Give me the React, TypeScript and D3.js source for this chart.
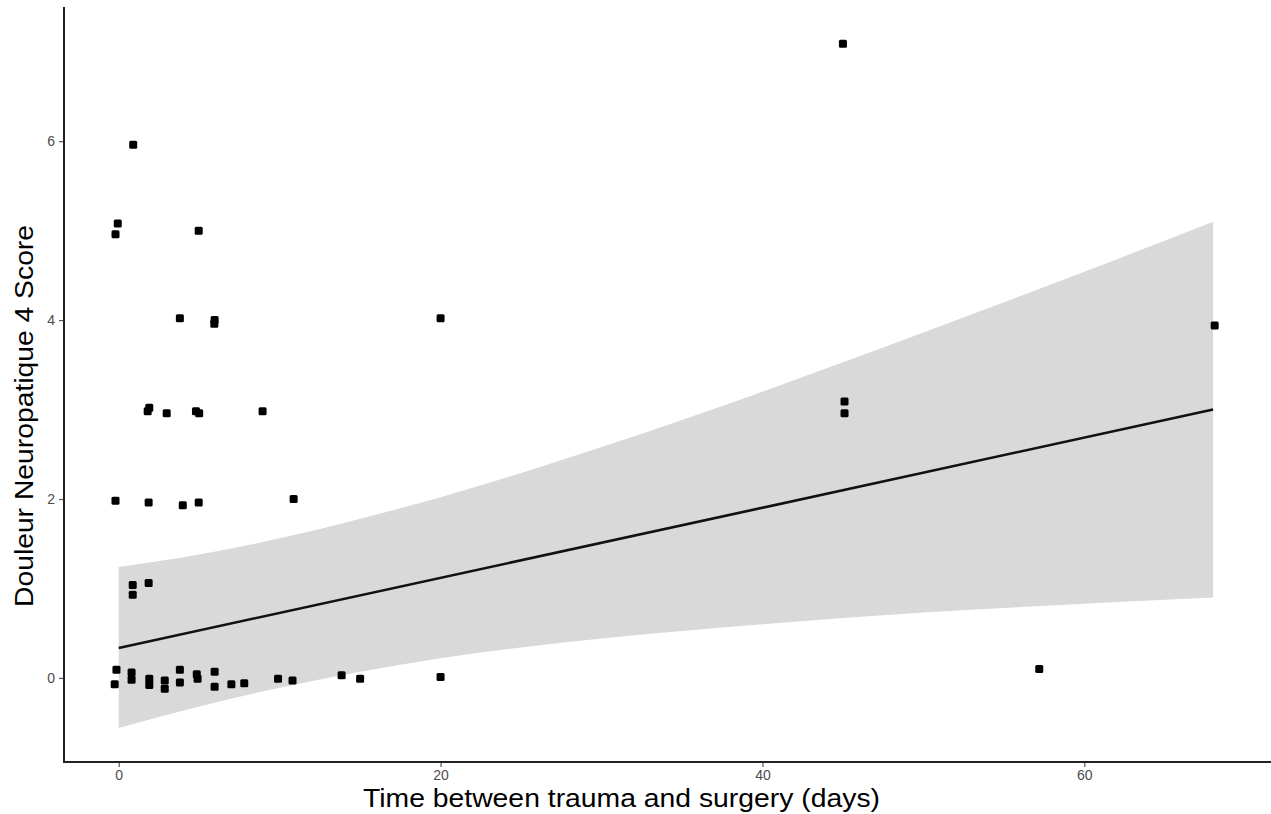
import React, { useRef, useEffect } from "react";
import * as d3 from "d3";

// observed points: days between trauma and surgery, DN4 score (jittered)
const pointDays = [
  45, 0.9, -0.06, -0.2, 4.97, 3.8, 5.96, 5.94, 20, 68.1,
  1.9, 1.8, 2.98, 4.8, 5.0, 8.94, 45.1, 45.1,
  -0.2, 1.86, 3.98, 4.97, 10.87,
  0.87, 0.87, 1.86, 57.2,
  -0.14, -0.25, 0.8, 0.8, 1.9, 1.9, 2.86, 2.86, 3.8, 3.8, 4.85, 4.9,
  5.96, 5.96, 7.0, 7.8, 9.9, 10.8, 13.85, 15.0, 20,
];
const pointScores = [
  7.09, 5.96, 5.08, 4.96, 5.0, 4.02, 4.0, 3.96, 4.02, 3.94,
  3.02, 2.98, 2.96, 2.98, 2.96, 2.98, 3.09, 2.96,
  1.98, 1.96, 1.93, 1.96, 2.0,
  1.04, 0.93, 1.06, 0.1,
  0.09, -0.07, 0.06, -0.02, -0.01, -0.08, -0.03, -0.12, 0.09, -0.05, 0.04, -0.01,
  0.07, -0.1, -0.07, -0.06, -0.01, -0.03, 0.03, -0.01, 0.01,
];

// fitted line and confidence band
const bandDays = [0, 5, 10, 15, 20, 30, 40, 50, 60, 68];
const bandUpper = [1.24, 1.38, 1.56, 1.78, 2.02, 2.58, 3.2, 3.86, 4.54, 5.1];
const bandLower = [-0.56, -0.32, -0.11, 0.07, 0.22, 0.44, 0.6, 0.73, 0.83, 0.9];
const fitDays = [0, 68];
const fitScores = [0.335, 3.0];

const xTicks = [0, 20, 40, 60];
const yTicks = [0, 2, 4, 6];

const App = () => {
  const svgRef = useRef<SVGSVGElement>(null);

  useEffect(() => {
    const svg = d3.select(svgRef.current);
    svg.selectAll("*").remove();

    const width = 1271;
    const height = 814;
    const left = 64;
    const bottom = 762;
    const font = "Liberation Sans, Arial, sans-serif";

    const x = d3.scaleLinear().domain([-3.4, 71.6]).range([left, width]);
    const y = d3.scaleLinear().domain([-0.94, 7.5]).range([bottom, 7]);

    svg.attr("width", width).attr("height", height);

    // confidence band
    const band = bandDays.map((d, i) => ({ d, hi: bandUpper[i], lo: bandLower[i] }));
    const area = d3
      .area<any>()
      .x((p) => x(p.d))
      .y0((p) => y(p.lo))
      .y1((p) => y(p.hi))
      .curve(d3.curveMonotoneX);
    svg.append("path").attr("d", area(band)).attr("fill", "#d9d9d9");

    // regression line
    const line = d3
      .line<number>()
      .x((d) => x(d))
      .y((d, i) => y(fitScores[i]));
    svg
      .append("path")
      .attr("d", line(fitDays))
      .attr("fill", "none")
      .attr("stroke", "#111")
      .attr("stroke-width", 2.6);

    // points
    const s = 8;
    svg
      .append("g")
      .selectAll("rect")
      .data(pointDays)
      .enter()
      .append("rect")
      .attr("x", (d) => x(d) - s / 2)
      .attr("y", (d, i) => y(pointScores[i]) - s / 2)
      .attr("width", s)
      .attr("height", s)
      .attr("rx", 1.5)
      .attr("fill", "#000");

    // axes
    const xAxis = svg
      .append("g")
      .attr("transform", `translate(0,${bottom})`)
      .call(
        d3.axisBottom(x).tickValues(xTicks).tickSize(5).tickPadding(2).tickFormat(d3.format("d"))
      );
    xAxis.select(".domain").remove();
    xAxis.selectAll("line").attr("stroke", "#555").attr("stroke-width", 1.2);
    xAxis
      .selectAll("text")
      .attr("fill", "#4d4d4d")
      .attr("font-size", 14)
      .attr("font-family", font)
      .attr("dy", "0.8em");

    const yAxis = svg
      .append("g")
      .attr("transform", `translate(${left},0)`)
      .call(d3.axisLeft(y).tickValues(yTicks).tickSize(5).tickFormat(d3.format("d")));
    yAxis.select(".domain").remove();
    yAxis.selectAll("line").attr("stroke", "#555").attr("stroke-width", 1.2);
    yAxis
      .selectAll("text")
      .attr("fill", "#4d4d4d")
      .attr("font-size", 14)
      .attr("font-family", font)
      .attr("x", -9);

    svg
      .append("line")
      .attr("x1", left)
      .attr("x2", left)
      .attr("y1", 7)
      .attr("y2", bottom + 1)
      .attr("stroke", "#222")
      .attr("stroke-width", 2);
    svg
      .append("line")
      .attr("x1", left - 1)
      .attr("x2", width)
      .attr("y1", bottom)
      .attr("y2", bottom)
      .attr("stroke", "#222")
      .attr("stroke-width", 2);

    // titles
    svg
      .append("text")
      .attr("x", 363)
      .attr("y", 807)
      .attr("font-size", 25)
      .attr("font-family", font)
      .attr("fill", "#000")
      .attr("textLength", 517)
      .attr("lengthAdjust", "spacingAndGlyphs")
      .text("Time between trauma and surgery (days)");

    svg
      .append("text")
      .attr("transform", `translate(33,607) rotate(-90)`)
      .attr("font-size", 26)
      .attr("font-family", font)
      .attr("fill", "#000")
      .attr("textLength", 382)
      .attr("lengthAdjust", "spacingAndGlyphs")
      .text("Douleur Neuropatique 4 Score");
  }, []);

  return (
    <svg
      ref={svgRef}
      style={{ position: "absolute", left: 0, top: 0, background: "#fff" }}
    ></svg>
  );
};

export default App;
